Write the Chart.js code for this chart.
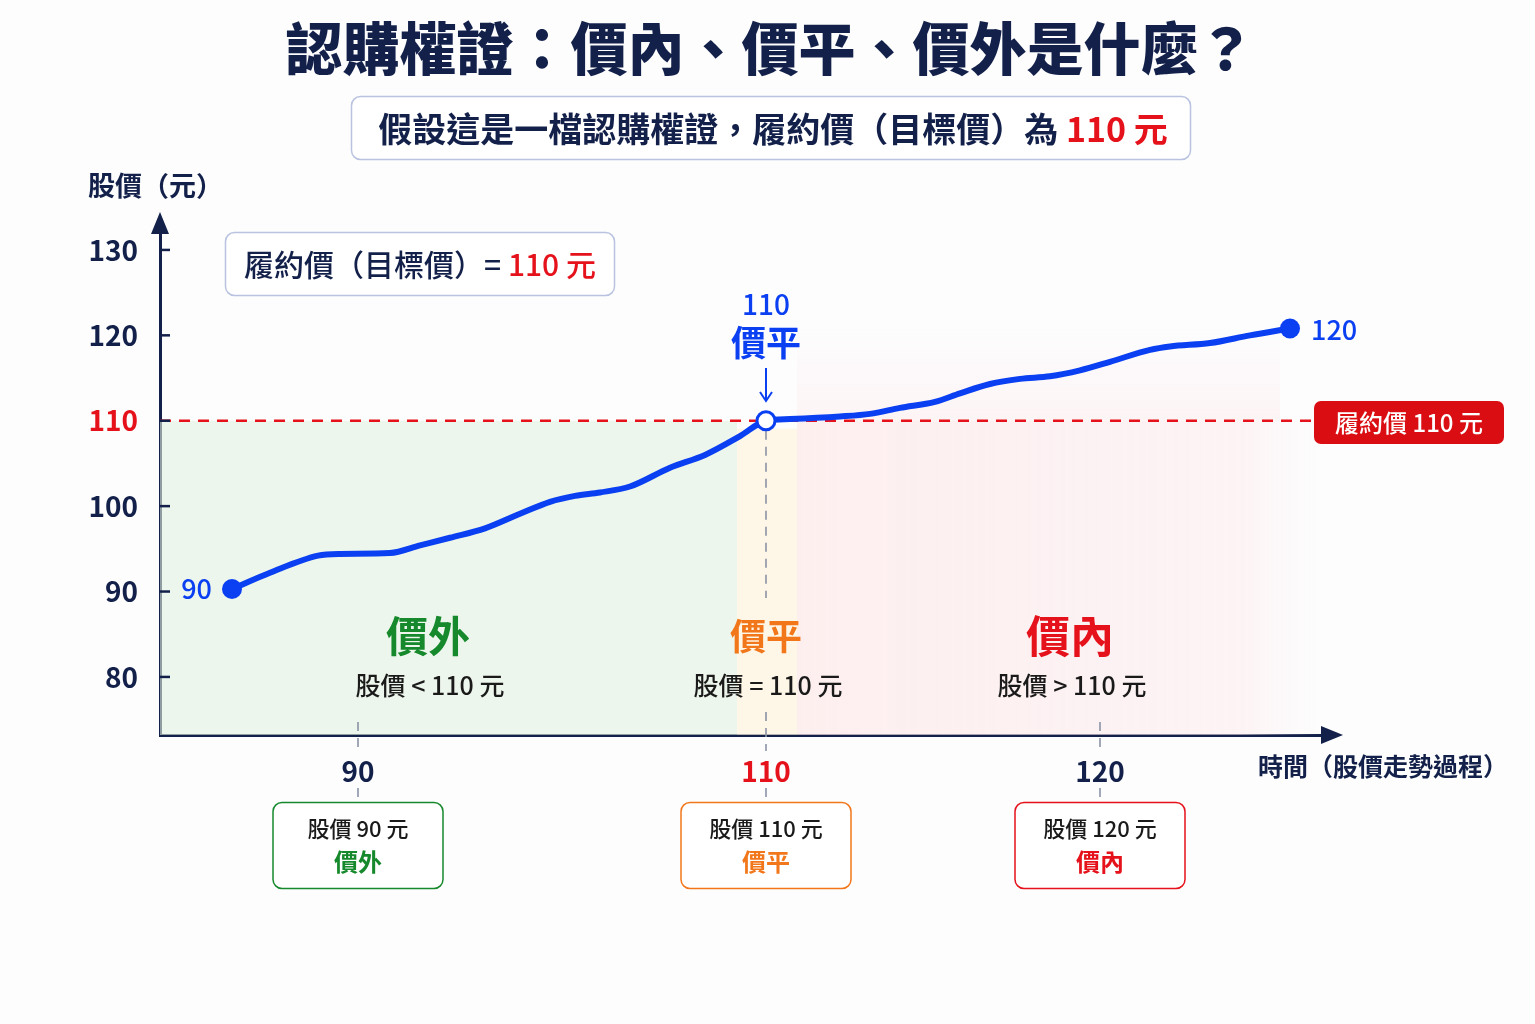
<!DOCTYPE html>
<html lang="zh-Hant">
<head>
<meta charset="utf-8">
<title>認購權證：價內、價平、價外是什麼？</title>
<script src="https://cdn.jsdelivr.net/npm/chart.js@4.4.1/dist/chart.umd.min.js"></script>
<style>
  html, body { margin: 0; padding: 0; background: #fdfdfe; }
  canvas { display: block; }
</style>
</head>
<body>
<canvas id="warrant-chart" width="1535" height="1024"></canvas>
<script>
// Time axis: position along the price path (arbitrary units)
const timeSteps = [7.2, 11, 15.8, 18, 23, 26, 29, 32.5, 36, 39, 41.5, 44, 47, 51, 54.5, 58, 60.6,
  63, 68, 71, 74, 77.5, 80, 83, 86, 89, 92, 95, 99, 101, 105, 109, 113];
// Stock price (元) at each step
const stockPrices = [90.3, 92.2, 94.2, 94.4, 94.5, 95.4, 96.3, 97.4, 99.1, 100.5, 101.2, 101.6, 102.3, 104.5, 106.0, 108.2, 110,
  110.2, 110.5, 110.8, 111.5, 112.2, 113.2, 114.3, 114.9, 115.2, 115.9, 116.9, 118.3, 118.7, 119.1, 120.0, 120.8];

const strikePrice = 110;
const yTicks = [80, 90, 100, 110, 120, 130];
const xTickPositions = [19.8, 60.6, 94];
const xTickLabels = ["90", "110", "120"];
const startLabel = "90";
const endLabel = "120";
// zone boundaries on the time axis: 價外 | 價平 | 價內
const zoneEdges = [0, 57.7, 63.7, 116];
const zoneNames = ["價外", "價平", "價內"];
const zoneRules = ["股價 < 110 元", "股價 = 110 元", "股價 > 110 元"];
const boxPrices = ["股價 90 元", "股價 110 元", "股價 120 元"];

const atMoneyIndex = timeSteps.indexOf(60.6);
const lastIndex = timeSteps.length - 1;

const FONT = '"Noto Sans CJK TC", "Noto Sans", sans-serif';
const NAVY = "#12204a";
const BLUE = "#0b40f2";
const RED = "#e5121b";
const GREEN = "#17892d";
const ORANGE = "#f2771a";
const GREY = "#8a93a6";
const zoneColors = [GREEN, ORANGE, RED];

function roundRect(ctx, x, y, w, h, r) {
  ctx.beginPath();
  ctx.moveTo(x + r, y);
  ctx.arcTo(x + w, y, x + w, y + h, r);
  ctx.arcTo(x + w, y + h, x, y + h, r);
  ctx.arcTo(x, y + h, x, y, r);
  ctx.arcTo(x, y, x + w, y, r);
  ctx.closePath();
}

// draw several coloured pieces of text centred on cx
function drawPieces(ctx, pieces, cx, cy, font) {
  ctx.font = font;
  ctx.textBaseline = "middle";
  ctx.textAlign = "left";
  const total = pieces.reduce((w, p) => w + ctx.measureText(p[0]).width, 0);
  let x = cx - total / 2;
  pieces.forEach((p) => {
    ctx.fillStyle = p[1];
    ctx.fillText(p[0], x, cy);
    x += ctx.measureText(p[0]).width;
  });
}

function text(ctx, str, x, y, font, color, align) {
  ctx.font = font;
  ctx.fillStyle = color;
  ctx.textAlign = align || "center";
  ctx.textBaseline = "middle";
  ctx.fillText(str, x, y);
}

function dashedLine(ctx, x1, y1, x2, y2, color, width, dash) {
  ctx.save();
  ctx.strokeStyle = color;
  ctx.lineWidth = width;
  ctx.setLineDash(dash);
  ctx.beginPath();
  ctx.moveTo(x1, y1);
  ctx.lineTo(x2, y2);
  ctx.stroke();
  ctx.restore();
}

const decorPlugin = {
  id: "decor",
  beforeDatasetsDraw(chart) {
    const { ctx, chartArea: a, scales } = chart;
    const x = scales.x, y = scales.y;
    const yStrike = y.getPixelForValue(strikePrice);
    const e = zoneEdges.map((v) => x.getPixelForValue(v));

    ctx.save();
    // 價外 zone
    ctx.fillStyle = "rgba(226, 242, 224, 0.6)";
    ctx.fillRect(e[0], yStrike, e[1] - e[0], a.bottom - yStrike);
    // 價平 band
    ctx.fillStyle = "rgba(253, 242, 220, 0.7)";
    ctx.fillRect(e[1], yStrike + 8, e[2] - e[1], a.bottom - yStrike - 8);
    // 價內 zone, fading out to the right and upward
    const yTop = y.getPixelForValue(121);
    const gx = ctx.createLinearGradient(e[2], 0, e[3], 0);
    gx.addColorStop(0, "rgba(253, 232, 232, 0.7)");
    gx.addColorStop(0.85, "rgba(253, 236, 236, 0.55)");
    gx.addColorStop(1, "rgba(253, 240, 240, 0)");
    ctx.fillStyle = gx;
    ctx.fillRect(e[2], yStrike, e[3] - e[2], a.bottom - yStrike);
    const gy = ctx.createLinearGradient(0, yTop, 0, yStrike);
    gy.addColorStop(0, "rgba(253, 236, 236, 0)");
    gy.addColorStop(1, "rgba(253, 236, 236, 0.5)");
    ctx.fillStyle = gy;
    ctx.fillRect(e[2], yTop, e[3] - e[2] - 40, yStrike - yTop);
    ctx.restore();

    // strike price dashed line
    dashedLine(ctx, a.left, yStrike, 1312, yStrike, RED, 2.5, [11, 8]);

    // vertical guides at x ticks
    xTickPositions.forEach((v, i) => {
      const px = x.getPixelForValue(v);
      if (i === 1) {
        dashedLine(ctx, px, yStrike + 10, px, 598, GREY, 1.6, [9, 7]);
        dashedLine(ctx, px, 712, px, a.bottom + 16, GREY, 1.6, [9, 7]);
      } else {
        dashedLine(ctx, px, a.bottom - 13, px, a.bottom + 16, GREY, 1.6, [9, 7]);
      }
      dashedLine(ctx, px, a.bottom + 53, px, a.bottom + 67, GREY, 1.6, [9, 7]);
    });
  },
  afterDraw(chart) {
    const { ctx, chartArea: a, scales } = chart;
    const x = scales.x, y = scales.y;
    ctx.save();

    // axis arrow heads
    ctx.fillStyle = NAVY;
    ctx.beginPath();
    ctx.moveTo(a.left, a.top - 20);
    ctx.lineTo(a.left - 9, a.top + 2);
    ctx.lineTo(a.left + 9, a.top + 2);
    ctx.closePath();
    ctx.fill();
    ctx.beginPath();
    ctx.moveTo(a.right + 21, a.bottom);
    ctx.lineTo(a.right - 1, a.bottom - 9);
    ctx.lineTo(a.right - 1, a.bottom + 9);
    ctx.closePath();
    ctx.fill();

    // y tick marks (inside the axis)
    ctx.strokeStyle = NAVY;
    ctx.lineWidth = 2.5;
    yTicks.forEach((v) => {
      const py = y.getPixelForValue(v);
      ctx.beginPath();
      ctx.moveTo(a.left, py);
      ctx.lineTo(a.left + 10, py);
      ctx.stroke();
    });

    // title and subtitle
    text(ctx, "認購權證：價內、價平、價外是什麼？", 770, 48, "900 57px " + FONT, NAVY);
    roundRect(ctx, 351.5, 96.5, 839, 63, 9);
    ctx.fillStyle = "#ffffff";
    ctx.fill();
    ctx.strokeStyle = "#b9c3df";
    ctx.lineWidth = 1.5;
    ctx.stroke();
    drawPieces(ctx, [["假設這是一檔認購權證，履約價（目標價）為 ", NAVY], ["110 元", RED]], 773, 129, "700 34px " + FONT);

    // axis titles
    text(ctx, "股價（元）", 88, 186, "700 27px " + FONT, NAVY, "left");
    text(ctx, "時間（股價走勢過程）", 1383, 766, "700 25px " + FONT, NAVY);

    // strike box
    roundRect(ctx, 225.5, 232.5, 389, 63, 9);
    ctx.fillStyle = "#ffffff";
    ctx.fill();
    ctx.strokeStyle = "#b9c3df";
    ctx.lineWidth = 1.5;
    ctx.stroke();
    drawPieces(ctx, [["履約價（目標價）= ", NAVY], ["110 元", RED]], 420, 265, "500 30px " + FONT);

    // strike label on the right
    roundRect(ctx, 1314, 401, 190, 43, 7);
    ctx.fillStyle = "#d90d12";
    ctx.fill();
    text(ctx, "履約價 110 元", 1409, 423, "500 24px " + FONT, "#ffffff");

    // point annotations
    const p0 = [x.getPixelForValue(timeSteps[0]), y.getPixelForValue(stockPrices[0])];
    const pm = [x.getPixelForValue(timeSteps[atMoneyIndex]), y.getPixelForValue(stockPrices[atMoneyIndex])];
    const pl = [x.getPixelForValue(timeSteps[lastIndex]), y.getPixelForValue(stockPrices[lastIndex])];
    text(ctx, startLabel, p0[0] - 20, p0[1], "500 27px " + FONT, BLUE, "right");
    text(ctx, endLabel, pl[0] + 21, pl[1] + 1, "500 27px " + FONT, BLUE, "left");
    text(ctx, String(strikePrice), pm[0], 304, "500 28px " + FONT, BLUE);
    text(ctx, "價平", pm[0], 343, "700 35px " + FONT, BLUE);
    ctx.strokeStyle = BLUE;
    ctx.lineWidth = 2;
    ctx.beginPath();
    ctx.moveTo(pm[0], 368);
    ctx.lineTo(pm[0], 400);
    ctx.moveTo(pm[0] - 6, 392);
    ctx.lineTo(pm[0], 401);
    ctx.lineTo(pm[0] + 6, 392);
    ctx.stroke();

    // zone labels
    const zoneCenters = [428, 766, 1070];
    const zoneSizes = [42, 36, 44];
    zoneNames.forEach((name, i) => {
      text(ctx, name, zoneCenters[i], 636, "700 " + zoneSizes[i] + "px " + FONT, zoneColors[i]);
      text(ctx, zoneRules[i], zoneCenters[i] + 2, 685, "500 25px " + FONT, "#1a1a1a");
    });

    // bottom boxes under each x tick
    xTickPositions.forEach((v, i) => {
      const px = x.getPixelForValue(v);
      roundRect(ctx, px - 85, 802.5, 170, 86, 9);
      ctx.fillStyle = "rgba(255,255,255,0.9)";
      ctx.fill();
      ctx.strokeStyle = zoneColors[i];
      ctx.lineWidth = 1.5;
      ctx.stroke();
      text(ctx, boxPrices[i], px, 829, "500 22px " + FONT, "#1a1a1a");
      text(ctx, zoneNames[i], px, 862, "700 24px " + FONT, zoneColors[i]);
    });

    ctx.restore();
  },
};

const ctx = document.getElementById("warrant-chart");

new Chart(ctx, {
  type: "line",
  data: {
    datasets: [
      {
        label: "股價",
        data: timeSteps.map((t, i) => ({ x: t, y: stockPrices[i] })),
        borderColor: BLUE,
        borderWidth: 6,
        tension: 0.35,
        cubicInterpolationMode: "monotone",
        fill: false,
        clip: false,
        pointRadius: (c) => (c.dataIndex === 0 || c.dataIndex === lastIndex ? 10 : c.dataIndex === atMoneyIndex ? 9 : 0),
        pointBackgroundColor: (c) => (c.dataIndex === atMoneyIndex ? "#ffffff" : BLUE),
        pointBorderColor: BLUE,
        pointBorderWidth: (c) => (c.dataIndex === atMoneyIndex ? 3 : 0),
      },
    ],
  },
  options: {
    responsive: false,
    animation: false,
    layout: {
      padding: { top: 232, right: 213, left: 0, bottom: 0 },
    },
    plugins: {
      legend: { display: false },
      title: { display: false },
      tooltip: { enabled: false },
    },
    scales: {
      x: {
        type: "linear",
        min: 0,
        max: 116.2,
        grid: { display: false },
        border: { display: true, color: NAVY, width: 3 },
        afterBuildTicks: (s) => {
          s.ticks = xTickPositions.map((v) => ({ value: v }));
        },
        afterFit: (s) => {
          s.height = 289;
        },
        ticks: {
          autoSkip: false,
          maxRotation: 0,
          padding: 12,
          font: { family: FONT, size: 28, weight: "600" },
          color: (c) => (c.index === 1 ? RED : NAVY),
          callback: (v, i) => xTickLabels[i],
        },
      },
      y: {
        min: 73.2,
        max: 132.1,
        grid: { display: false },
        border: { display: true, color: NAVY, width: 3 },
        afterBuildTicks: (s) => {
          s.ticks = yTicks.map((v) => ({ value: v }));
        },
        afterFit: (s) => {
          s.width = 160;
        },
        ticks: {
          padding: 14,
          font: { family: FONT, size: 28, weight: "600" },
          color: (c) => (c.tick && c.tick.value === strikePrice ? RED : NAVY),
        },
      },
    },
  },
  plugins: [decorPlugin],
});
</script>
</body>
</html>
